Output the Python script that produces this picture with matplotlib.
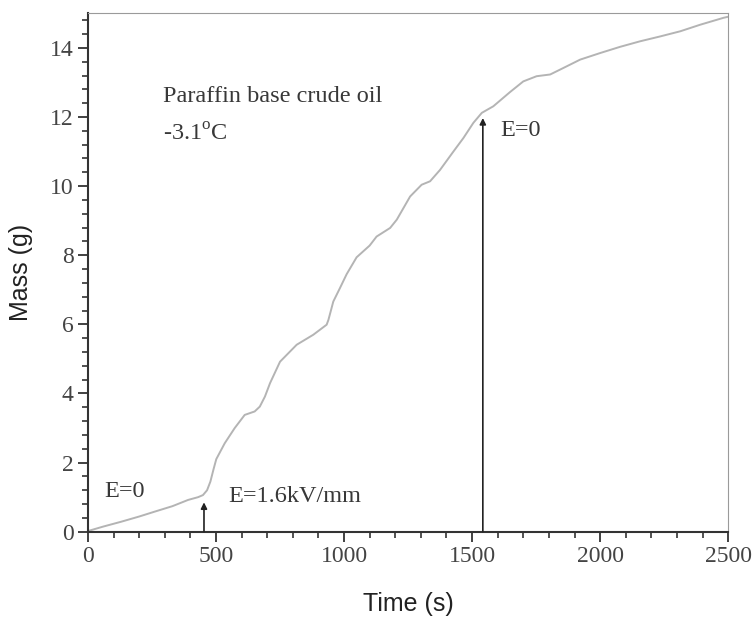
import numpy as np
import matplotlib.pyplot as plt
from matplotlib.ticker import MultipleLocator

plt.rcParams['mathtext.fontset'] = 'custom'
plt.rcParams['mathtext.rm'] = 'Liberation Serif'

# Data
time_s = [0, 60, 130, 200, 260, 330, 391, 430, 449, 465, 478, 490, 501, 534,
          573, 612, 651, 671, 691, 711, 750, 815, 880, 932, 939, 958, 984,
          1010, 1049, 1100, 1127, 1180, 1206, 1258, 1303, 1336, 1375, 1427,
          1466, 1505, 1538, 1583, 1648, 1700, 1752, 1805, 1857, 1922, 2000,
          2078, 2156, 2234, 2313, 2391, 2482, 2500]
mass_g = [0.02, 0.15, 0.29, 0.44, 0.58, 0.74, 0.92, 1.0, 1.06, 1.2, 1.45,
          1.8, 2.1, 2.56, 3.0, 3.38, 3.48, 3.62, 3.91, 4.30, 4.92, 5.41, 5.70,
          5.99, 6.13, 6.66, 7.05, 7.45, 7.94, 8.28, 8.54, 8.79, 9.03, 9.70,
          10.04, 10.14, 10.47, 11.00, 11.39, 11.83, 12.12, 12.31, 12.72,
          13.03, 13.18, 13.23, 13.42, 13.66, 13.85, 14.03, 14.19, 14.33,
          14.48, 14.67, 14.87, 14.90]

# field switch events
arrow_t = [453, 1542]
arrow_top = [0.85, 11.97]

fig = plt.figure(figsize=(7.54, 6.19), dpi=100)
ax = fig.add_axes([0.1167, 0.141, 0.849, 0.8375])

ax.plot(time_s, mass_g, color='#b4b4b4', lw=1.4)

for t, top in zip(arrow_t, arrow_top):
    ax.annotate('', xy=(t, top), xytext=(t, 0),
                arrowprops=dict(arrowstyle='-|>', color='#222222', lw=1.2,
                                mutation_scale=9, shrinkA=0, shrinkB=0))

serif = 'Liberation Serif'
fs = 17.5
ax.text(293, 12.6, 'Paraffin base crude oil', family=serif, fontsize=fs,
        color='#383838', va='center')
ax.text(293, 11.5, r'-3.1$^\mathrm{o}$C', family=serif, fontsize=fs,
        color='#383838', va='center')
ax.text(65, 1.16, 'E=0', family=serif, fontsize=fs, color='#383838', va='center')
ax.text(547, 1.03, 'E=1.6kV/mm', family=serif, fontsize=fs, color='#383838', va='center')
ax.text(1609, 11.6, 'E=0', family=serif, fontsize=fs, color='#383838', va='center')

ax.set_xlim(0, 2500)
ax.set_ylim(0, 15)
ax.xaxis.set_major_locator(MultipleLocator(500))
ax.xaxis.set_minor_locator(MultipleLocator(100))
ax.yaxis.set_major_locator(MultipleLocator(2))
ax.yaxis.set_minor_locator(MultipleLocator(0.4))
ax.tick_params(which='major', direction='out', length=7, width=1.3, color='#333333',
               labelsize=17, labelcolor='#444444')
ax.tick_params(which='minor', direction='out', length=4, width=1.2, color='#333333')
for lab in ax.get_xticklabels() + ax.get_yticklabels():
    lab.set_family(serif)

ax.spines['left'].set_color('#333333')
ax.spines['bottom'].set_color('#333333')
ax.spines['left'].set_linewidth(1.5)
ax.spines['bottom'].set_linewidth(1.5)
ax.spines['top'].set_color('#9a9a9a')
ax.spines['right'].set_color('#9a9a9a')

ax.set_xlabel('Time (s)', family='Liberation Sans', fontsize=18, color='#222222', labelpad=18)
ax.set_ylabel('Mass (g)', family='Liberation Sans', fontsize=18, color='#222222', labelpad=12)

fig.savefig('out.png', dpi=100)
